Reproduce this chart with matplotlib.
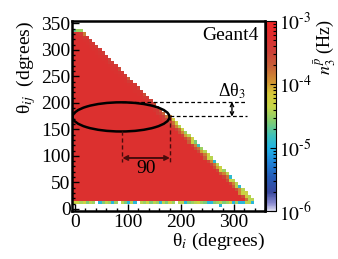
import numpy as np
import matplotlib
matplotlib.use("Agg")
import matplotlib.pyplot as plt
from matplotlib.colors import LinearSegmentedColormap, LogNorm
from matplotlib.patches import Ellipse
from matplotlib.ticker import MultipleLocator, LogLocator, NullFormatter, FixedLocator

plt.rcParams['font.family'] = ['Liberation Serif', 'DejaVu Serif']
plt.rcParams['mathtext.fontset'] = 'stix'

# ---- data ----
# column centres of theta_i bins (deg)
theta_i = [0, 6, 12, 18, 24, 30, 36, 42, 48, 54, 60, 66, 72, 78, 84, 90, 96, 102, 108,
           114, 120, 126, 132, 138, 144, 150, 156, 162, 168, 174, 180, 186, 192, 198,
           204, 210, 216, 222, 228, 234, 240, 246, 252, 258, 264, 270, 276, 282, 288,
           294, 300, 306, 312, 318, 324, 330, 336]
# highest filled theta_ij bin centre for each column
top_bin = [336, 336, 336, 330, 324, 318, 312, 306, 300, 294, 288, 282, 276, 270, 264,
           258, 252, 246, 240, 234, 228, 222, 216, 210, 204, 198, 192, 186, 180, 174,
           174, 168, 162, 156, 150, 144, 138, 132, 126, 120, 114, 108, 102, 96, 90,
           84, 78, 72, 66, 60, 54, 48, 42, 36, 30, 24, 18]
bottom_bin = 12
# log10 rate (Hz) of the bulk
bulk_log = -3.28
# log10 rate of top edge cell, second and third from top
edge1_log = [-4.7, -4.5, -4.5, -3.85,
             -3.4, -3.45, -3.4, -3.5, -3.4, -3.45, -3.4, -3.5, -3.45, -3.4, -3.55, -3.4,
             -3.45, -3.7, -3.45, -3.4, -3.5, -3.45, -3.6, -3.45, -3.5,
             -3.6, -3.7, -3.65, -3.75, -3.8,
             -3.9, -4.2, -4.3, -4.4, -4.3, -4.5, -4.4, -4.3, -4.6, -4.8, -4.5, -4.4, -4.3,
             -4.4, -4.9, -4.4, -4.3, -4.5, -4.4, -4.9, -4.4, -4.4, -4.9, -4.4, -4.3,
             -4.4, -4.4]
edge2_log = [-3.35, -3.3, -3.4, -3.4,
             -3.3, -3.35, -3.3, -3.3, -3.35, -3.3, -3.3, -3.4, -3.3, -3.3, -3.35, -3.3,
             -3.3, -3.4, -3.3, -3.35, -3.3, -3.3, -3.4, -3.35, -3.35,
             -3.45, -3.4, -3.5, -3.45, -3.5,
             -3.7, -3.8, -3.9, -3.75, -3.9, -4.0, -3.8, -4.3, -3.9, -3.8, -4.0, -3.85,
             -4.3, -3.9, -3.8, -4.0, -4.3, -3.9, -3.8, -4.3, -3.9, -4.4, -3.9, -4.3,
             -4.2, -4.4, -4.4]
edge3_log = [-3.3] * 25 + [-3.35, -3.4, -3.35, -3.4, -3.4,
             -3.5, -3.55, -3.5, -3.6, -3.5, -3.55, -3.7, -3.5, -3.6, -3.55, -3.5, -3.7,
             -3.55, -3.5, -3.6, -3.55, -3.7, -3.5, -3.6, -3.55, -3.7, -3.6, -3.9, -3.6,
             -3.8, -4.0, -4.0]
bottom_log = [-4.35, -4.3, -4.45, -4.3, -4.6, -4.4, -4.5, np.nan, -4.95, -4.6, -4.4,
              -4.5, -4.95, -4.5, np.nan, -4.4, -4.6, -4.95, -4.4, -4.95, np.nan, -4.4,
              -4.5, -4.35, -4.6, -4.4, -4.5, -4.95, -4.4, -4.6, -4.3, -4.5, np.nan,
              -4.4, -4.4, -4.95, -4.6, -4.5, -4.4, -4.3, -4.5, -4.6, -4.95, -4.95,
              -4.6, -4.5, -4.4, -4.6, -4.5, -4.3, -4.95, -4.5, -4.95, -4.95, -4.4,
              -4.4, -4.95]
lone_cell = (276, 6, -4.95)   # (theta_i, theta_ij, log10 rate)

xticks = [0, 100, 200, 300]
yticks = [0, 50, 100, 150, 200, 250, 300, 350]
cticks = [1e-6, 1e-5, 1e-4, 1e-3]
cticklabels = [r'$10^{\text{-}6}$', r'$10^{\text{-}5}$', r'$10^{\text{-}4}$', r'$10^{\text{-}3}$']

# ---- build histogram ----
bw = 6
edges = np.arange(-3, 340, bw)
nb = len(edges) - 1
H = np.full((nb, nb), np.nan)
for k, c in enumerate(theta_i):
    t = top_bin[k] // bw
    b = bottom_bin // bw
    H[b + 1:t + 1, k] = 10 ** bulk_log
    H[t, k] = 10 ** edge1_log[k]
    if t - 1 > b:
        H[t - 1, k] = 10 ** edge2_log[k]
    if t - 2 > b:
        H[t - 2, k] = 10 ** edge3_log[k]
    H[b, k] = 10 ** bottom_log[k]
H[lone_cell[1] // bw, lone_cell[0] // bw] = 10 ** lone_cell[2]

cmap = LinearSegmentedColormap.from_list('rootlike', [
    (0.00, (0.90, 0.90, 0.96)),
    (0.04, (0.55, 0.55, 0.82)),
    (0.10, (0.22, 0.28, 0.62)),
    (0.18, (0.14, 0.36, 0.72)),
    (0.26, (0.12, 0.52, 0.85)),
    (0.33, (0.12, 0.70, 0.90)),
    (0.40, (0.25, 0.76, 0.72)),
    (0.47, (0.50, 0.80, 0.45)),
    (0.55, (0.78, 0.84, 0.28)),
    (0.62, (0.84, 0.78, 0.22)),
    (0.68, (0.82, 0.58, 0.20)),
    (0.76, (0.78, 0.38, 0.22)),
    (0.84, (0.80, 0.25, 0.22)),
    (0.92, (0.87, 0.18, 0.18)),
    (1.00, (0.93, 0.14, 0.14)),
])
norm = LogNorm(1e-6, 1e-3)

fig = plt.figure(figsize=(3.38, 2.59), dpi=100)
ax = fig.add_axes([0.213, 0.1834, 0.572, 0.7366])
cax = fig.add_axes([0.786, 0.1834, 0.031, 0.7366])

mesh = ax.pcolormesh(edges, edges, np.ma.masked_invalid(H), cmap=cmap, norm=norm)
ax.set_xlim(-5, 360)
ax.set_ylim(-5, 355)

FS = 14
for s in ax.spines.values():
    s.set_linewidth(1.8)
ax.xaxis.set_major_locator(FixedLocator(xticks))
ax.yaxis.set_major_locator(FixedLocator(yticks))
ax.xaxis.set_minor_locator(MultipleLocator(20))
ax.yaxis.set_minor_locator(MultipleLocator(10))
ax.tick_params(which='both', direction='in', top=False, right=False, width=1)
ax.tick_params(which='major', length=5, labelsize=FS)
ax.tick_params(which='minor', length=2.5)
ax.tick_params(axis='y', pad=1)
ax.tick_params(axis='x', pad=2)
ax.set_xlabel(r'θ$_i$ (degrees)', fontsize=FS, loc='right', labelpad=0)
ax.set_ylabel(r'θ$_{ij}$  (dgrees)', fontsize=FS, loc='top', labelpad=2)

ax.text(0.965, 0.925, 'Geant4', transform=ax.transAxes, ha='right', va='center', fontsize=FS)

# annotations
ax.add_patch(Ellipse((87.5, 173.5), 183, 55, fill=False, ec='black', lw=1.8))
ax.plot([90, 326], [201, 201], color='black', lw=0.9, dashes=(3, 2))
ax.plot([180, 326], [175, 175], color='black', lw=0.9, dashes=(3, 2))
ax.annotate('', xy=(297, 202), xytext=(297, 174),
            arrowprops=dict(arrowstyle='<->', lw=1.0, color='black',
                            mutation_scale=6, shrinkA=0, shrinkB=0))
ax.text(297, 221, r'Δθ$_3$', ha='center', va='center', fontsize=FS - 1)
dark = '#4a0c0c'
ax.plot([90, 90], [146, 89], color=dark, lw=1.0, dashes=(3, 2))
ax.plot([180, 180], [175, 89], color=dark, lw=1.0, dashes=(3, 2))
ax.annotate('', xy=(90, 96), xytext=(180, 96),
            arrowprops=dict(arrowstyle='<->', lw=1.4, color=dark,
                            mutation_scale=7, shrinkA=0, shrinkB=0))
ax.text(135, 76, '90', ha='center', va='center', fontsize=FS)

cb = fig.colorbar(mesh, cax=cax)
cb.outline.set_linewidth(0.8)
cb.set_ticks(cticks)
cb.set_ticklabels(cticklabels)
cax.yaxis.set_minor_locator(LogLocator(base=10, subs=np.arange(2, 10)))
cax.yaxis.set_minor_formatter(NullFormatter())
cax.tick_params(which='both', direction='in', right=True, left=False, width=0.8)
cax.tick_params(which='major', length=4, labelsize=FS, pad=2)
cax.tick_params(which='minor', length=2)
fig.text(325 / 338, 1 - 19 / 259, r'$n^{\bar{p}}_{3}$ (Hz)', rotation=90,
         ha='center', va='top', fontsize=13)

fig.savefig('out.png', dpi=100)
